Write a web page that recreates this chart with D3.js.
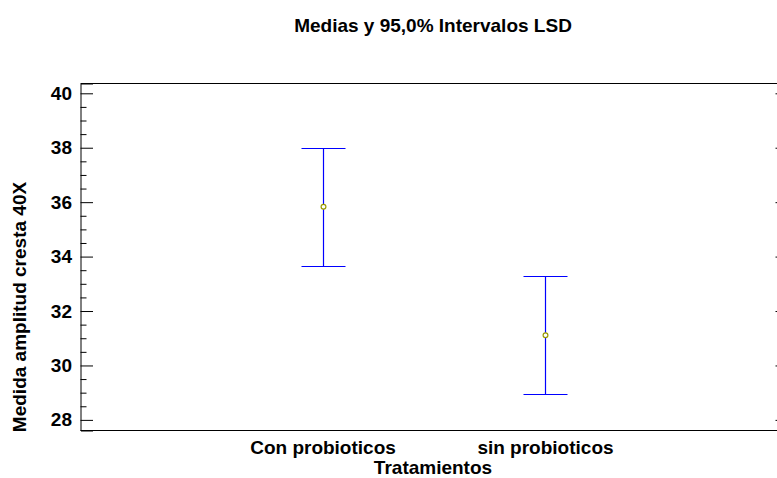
<!DOCTYPE html>
<html>
<head>
<meta charset="utf-8">
<script src="https://cdn.jsdelivr.net/npm/d3@7"></script>
<style>
  html, body { margin: 0; padding: 0; background: #fff; }
  svg { display: block; }
  text { font-family: "Liberation Sans", Arial, sans-serif; font-weight: bold; fill: #000; }
</style>
</head>
<body>
<svg id="chart" width="777" height="478"></svg>
<script>
// Treatment groups and their LSD interval summaries
const categories = ["Con probioticos", "sin probioticos"];
const means = [35.83, 31.11];
const lower = [33.66, 28.94];
const upper = [38.00, 33.28];
const majorTicks = [28, 30, 32, 34, 36, 38, 40];

const title = "Medias y 95,0% Intervalos LSD";
const xTitle = "Tratamientos";
const yTitle = "Medida amplitud cresta 40X";

const W = 777, H = 478;
const plot = { left: 80.5, right: 788, top: 83.5, bottom: 430.5 };

const svg = d3.select("#chart");

const y = d3.scaleLinear().domain([27.61, 40.36]).range([plot.bottom, plot.top]);
const x = d3.scalePoint().domain(categories).range([plot.left, plot.right]).padding(1.09);

// Minor ticks every 0.5 between the labelled ones
const minorTicks = d3.range(Math.ceil(y.domain()[0] * 2) / 2, y.domain()[1], 0.5)
  .filter(v => Math.abs(v / 2 - Math.round(v / 2)) > 1e-6);

// Frame
const frame = svg.append("g").attr("stroke", "#000").attr("stroke-width", 1).attr("fill", "none");
frame.append("line").attr("x1", plot.left).attr("x2", plot.right).attr("y1", plot.top).attr("y2", plot.top);
frame.append("line").attr("x1", plot.left).attr("x2", plot.right).attr("y1", plot.bottom).attr("y2", plot.bottom);
frame.append("line").attr("x1", plot.right).attr("x2", plot.right).attr("y1", plot.top).attr("y2", plot.bottom);

// Left axis: inward major ticks with labels
const yAxis = svg.append("g")
  .attr("transform", `translate(${plot.left},0)`)
  .call(d3.axisLeft(y).tickValues(majorTicks).tickFormat(d3.format("d")).tickSize(-12.5).tickPadding(8.5));
yAxis.select(".domain").attr("stroke", "#000");
yAxis.selectAll(".tick line").attr("stroke", "#000");
yAxis.selectAll(".tick text")
  .attr("font-family", "'Liberation Sans', Arial, sans-serif")
  .attr("font-weight", "bold")
  .attr("font-size", 19)
  .attr("fill", "#000");

// Left axis minor ticks
const yMinor = svg.append("g")
  .attr("transform", `translate(${plot.left},0)`)
  .call(d3.axisLeft(y).tickValues(minorTicks).tickFormat("").tickSize(-6));
yMinor.select(".domain").remove();
yMinor.selectAll(".tick line").attr("stroke", "#000");

// Right axis: inward major ticks
const yRight = svg.append("g")
  .attr("transform", `translate(${plot.right},0)`)
  .call(d3.axisRight(y).tickValues(majorTicks).tickFormat("").tickSize(-12.5));
yRight.select(".domain").remove();
yRight.selectAll(".tick line").attr("stroke", "#000");

// Category labels under the frame
svg.append("g").selectAll("text")
  .data(categories)
  .join("text")
  .attr("x", d => x(d))
  .attr("y", 454)
  .attr("text-anchor", "middle")
  .attr("font-size", 19)
  .text(d => d);

// Interval bars
const capHalf = 22;
const barColor = "#0000ff";
const bars = svg.append("g");
categories.forEach((c, i) => {
  const cx = Math.round(x(c)) + 0.5;
  const yt = Math.round(y(upper[i])) + 0.5;
  const yb = Math.round(y(lower[i])) + 0.5;
  const segs = [
    [cx, yt, cx, yb],
    [cx - capHalf, yt, cx + capHalf, yt],
    [cx - capHalf, yb, cx + capHalf, yb]
  ];
  segs.forEach(s => bars.append("line")
    .attr("x1", s[0]).attr("y1", s[1]).attr("x2", s[2]).attr("y2", s[3])
    .attr("stroke", barColor).attr("stroke-width", 1.2));
});

// Group means
svg.append("g").selectAll("circle")
  .data(categories)
  .join("circle")
  .attr("cx", d => Math.round(x(d)) + 0.5)
  .attr("cy", (d, i) => y(means[i]))
  .attr("r", 2.4)
  .attr("fill", "#fff")
  .attr("stroke", "#9a9a00")
  .attr("stroke-width", 1.2);

// Titles
svg.append("text")
  .attr("x", 433).attr("y", 32)
  .attr("text-anchor", "middle")
  .attr("font-size", 19)
  .text(title);

svg.append("text")
  .attr("x", 433).attr("y", 474)
  .attr("text-anchor", "middle")
  .attr("font-size", 19)
  .text(xTitle);

svg.append("text")
  .attr("transform", `translate(26,${(plot.top + plot.bottom) / 2 + 50}) rotate(-90)`)
  .attr("text-anchor", "middle")
  .attr("font-size", 19)
  .text(yTitle);
</script>
</body>
</html>
